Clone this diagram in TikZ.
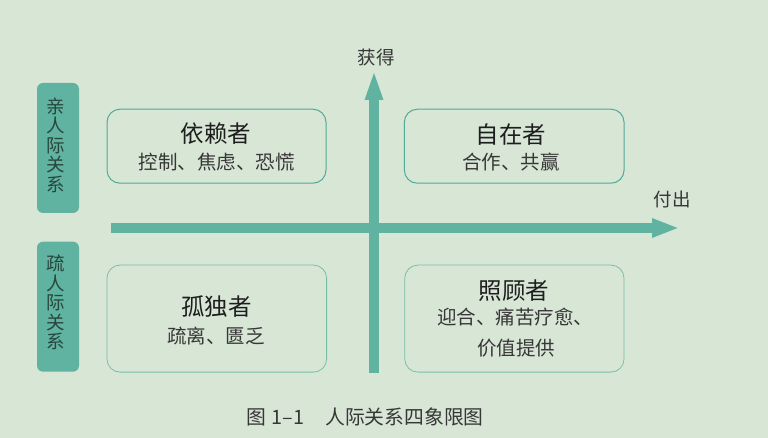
\documentclass[tikz,border=0pt]{standalone}
\usepackage{fontspec}
\setmainfont{Noto Sans CJK SC}
\definecolor{bgc}{RGB}{216,230,214}
\definecolor{axisc}{RGB}{95,179,160}
\definecolor{edgeA}{RGB}{80,170,150}
\definecolor{edgeB}{RGB}{120,190,170}
\definecolor{txtA}{RGB}{30,30,30}
\definecolor{txtB}{RGB}{55,55,55}
\definecolor{tagtxt}{RGB}{40,70,60}
\begin{document}
\begin{tikzpicture}[x=1pt,y=-1pt,
  tagbox/.style={fill=axisc,rounded corners=6pt,minimum width=42pt,minimum height=130pt,inner sep=0pt},
  tagtext/.style={text=tagtxt,align=center,font=\fontsize{18.5}{19.5}\selectfont,inner sep=0pt},
  quadbox/.style={draw=edgeA,line width=1pt,rounded corners=13pt,inner sep=0pt},
  quadboxl/.style={draw=edgeB,line width=0.8pt,rounded corners=13pt,inner sep=0pt},
  ttltext/.style={text=txtA,font=\fontsize{23.5}{26}\selectfont,inner sep=0pt},
  subtext/.style={text=txtB,font=\fontsize{19.5}{22}\selectfont,inner sep=0pt},
  axlabel/.style={text=txtB,font=\fontsize{18.5}{20}\selectfont,inner sep=0pt},
  captext/.style={text=txtB,font=\fontsize{19.8}{21}\selectfont,inner sep=0pt}]
\fill[bgc] (0,0) rectangle (768,438);
\useasboundingbox (0,0) rectangle (768,438);

% side tags
\node[tagbox] (tag1) at (58,148) {};
\node[tagtext] (tag1t) at (55.5,145) {亲\\人\\际\\关\\系};
\node[tagbox] (tag2) at (58,306.7) {};
\node[tagtext] (tag2t) at (55.5,302.5) {疏\\人\\际\\关\\系};

% quadrant boxes
\node[quadbox,minimum width=219pt,minimum height=74pt] (qa) at (216.5,146.2) {};
\node[quadbox,minimum width=219.7pt,minimum height=74pt] (qb) at (514.2,146.2) {};
\node[quadboxl,minimum width=219.6pt,minimum height=107pt] (qc) at (216.8,318.6) {};
\node[quadboxl,minimum width=219.2pt,minimum height=107pt] (qd) at (514.4,318.6) {};

% axes
\coordinate (hs) at (111,228);
\coordinate (he) at (653,228);
\coordinate (vs) at (374,372.7);
\coordinate (ve) at (374,99);
\draw[axisc,line width=10pt] (hs) -- (he);
\draw[axisc,line width=10pt] (vs) -- (ve);
\fill[axisc] (652,218) -- (677.5,228) -- (652,238) -- cycle;
\fill[axisc] (364.5,100) -- (374,73) -- (383.5,100) -- cycle;
\node[axlabel] (gain) at (376,57) {获得};
\node[axlabel] (give) at (672,199) {付出};

% texts
\node[ttltext] (ta) at (216,134) {依赖者};
\node[subtext] (sa) at (216.5,162) {控制、焦虑、恐慌};
\node[ttltext] (tb) at (511,135) {自在者};
\node[subtext] (sb) at (511,162) {合作、共赢};
\node[ttltext] (tc) at (216.5,306.7) {孤独者};
\node[subtext] (sc) at (216,336) {疏离、匮乏};
\node[ttltext] (td) at (514,290.5) {照顾者};
\node[subtext] (sd1) at (515,317.3) {迎合、痛苦疗愈、};
\node[subtext] (sd2) at (516,348) {价值提供};

% caption
\node[captext,anchor=west] (caption) at (246,416.7) {图\hspace{0.3em}1–1\hspace{1.05em}人际关系四象限图};
\end{tikzpicture}
\end{document}
